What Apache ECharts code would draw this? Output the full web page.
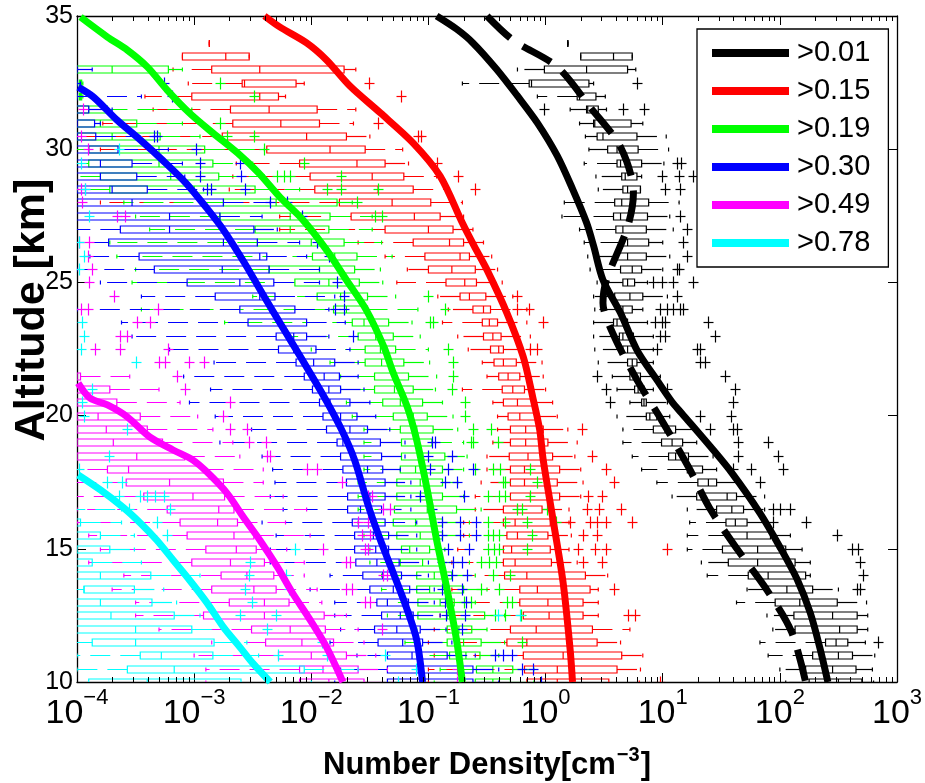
<!DOCTYPE html>
<html>
<head>
<meta charset="utf-8">
<script src="https://cdn.jsdelivr.net/npm/echarts@6/dist/echarts.min.js"></script>
<style>
  html, body { margin: 0; padding: 0; background: #fff; }
  #chart { width: 925px; height: 783px; }
</style>
</head>
<body>
<div id="chart"></div>
<script>
// Number density profiles of aerosol size classes versus altitude.
// Box statistics per altitude level: [altitude km, lowWhisker, q1, median, q3, highWhisker],
// all densities given as log10(cm^-3).

const sizeLabels = ['>0.01', '>0.15', '>0.19', '>0.30', '>0.49', '>0.78'];
const sizeColors = ['#000000', '#ff0000', '#00ff00', '#0000ff', '#ff00ff', '#00ffff'];

const blackBoxes = [
  [34, 0.19, 0.19, 0.19, 0.19, 0.19], [33.5, 0.30, 0.30, 0.58, 0.74, 0.74], [33, -0.24, -0.01, 0.35, 0.70, 0.77],
  [32.5, -0.71, -0.14, -0.12, 0.37, 0.41], [32, -0.07, 0.27, 0.29, 0.43, 0.51], [31.5, 0.21, 0.35, 0.36, 0.45, 0.52],
  [31, 0.29, 0.41, 0.42, 0.73, 0.83], [30.5, 0.34, 0.44, 0.49, 0.78, 1.03], [30, 0.37, 0.53, 0.61, 0.79, 1.05],
  [29.5, 0.33, 0.61, 0.64, 0.82, 1.01], [29, 0.43, 0.65, 0.68, 0.78, 0.82], [28.5, 0.45, 0.66, 0.70, 0.81, 0.81],
  [28, 0.16, 0.59, 0.65, 0.88, 1.14], [27.5, 0.14, 0.58, 0.64, 0.87, 1.06], [27, 0.29, 0.60, 0.66, 0.86, 1.09],
  [26.5, 0.33, 0.64, 0.70, 0.88, 1.00], [26, 0.36, 0.59, 0.70, 0.86, 1.06], [25.5, 0.38, 0.64, 0.74, 0.82, 1.00],
  [25, 0.44, 0.66, 0.70, 0.76, 0.87], [24.5, 0.41, 0.59, 0.72, 0.83, 1.04], [24, 0.42, 0.63, 0.66, 0.74, 0.83],
  [23.5, 0.41, 0.58, 0.61, 0.70, 0.87], [23, 0.41, 0.63, 0.66, 0.75, 0.92], [22.5, 0.42, 0.66, 0.70, 0.78, 0.92],
  [22, 0.45, 0.70, 0.74, 0.78, 0.92], [21.5, 0.57, 0.72, 0.75, 0.81, 0.98], [21, 0.61, 0.76, 0.79, 0.84, 0.92],
  [20.5, 0.72, 0.82, 0.84, 0.86, 1.04], [20, 0.61, 0.86, 0.89, 0.95, 1.06], [19.5, 0.66, 0.92, 1.02, 1.11, 1.29],
  [19, 0.66, 0.99, 1.08, 1.17, 1.29], [18.5, 0.74, 1.05, 1.11, 1.22, 1.43], [18, 0.82, 1.21, 1.23, 1.34, 1.46],
  [17.5, 0.95, 1.30, 1.39, 1.46, 1.66], [17, 1.08, 1.29, 1.55, 1.63, 1.87], [16.5, 1.21, 1.46, 1.59, 1.69, 1.87],
  [16, 1.23, 1.54, 1.62, 1.72, 1.89], [15.5, 1.21, 1.56, 1.72, 1.92, 2.09], [15, 1.21, 1.51, 1.81, 2.05, 2.19],
  [14.5, 1.33, 1.56, 1.81, 2.13, 2.26], [14, 1.38, 1.73, 1.90, 2.22, 2.26], [13.5, 1.72, 1.90, 2.06, 2.28, 2.50],
  [13, 1.63, 1.96, 2.17, 2.49, 2.74], [12.5, 1.89, 2.12, 2.45, 2.66, 2.75], [12, 1.94, 2.13, 2.51, 2.66, 2.75],
  [11.5, 1.83, 2.39, 2.48, 2.58, 2.73], [11, 1.90, 2.28, 2.50, 2.62, 2.81], [10.5, 2.00, 2.22, 2.45, 2.65, 2.79],
  [10, 2.05, 2.25, 2.50, 2.70, 2.80]
];
const redBoxes = [
  [34, -2.87, -2.87, -2.87, -2.87, -2.87], [33.5, -3.10, -3.10, -2.73, -2.53, -2.53], [33, -3.18, -2.85, -2.44, -1.72, -1.62],
  [32.5, -3.05, -2.59, -2.57, -2.13, -2.06], [32, -3.42, -3.02, -2.44, -2.28, -2.22], [31.5, -3.35, -2.69, -2.36, -1.95, -1.62],
  [31, -3.78, -2.67, -2.26, -1.93, -1.64], [30.5, -4.10, -2.76, -2.04, -1.70, -1.50], [30, -3.80, -2.38, -1.84, -1.54, -1.22],
  [29.5, -2.64, -2.10, -1.61, -1.37, -1.17], [29, -2.67, -2.01, -1.48, -1.21, -0.93], [28.5, -2.70, -1.97, -1.43, -1.13, -0.82],
  [28, -3.80, -1.76, -1.31, -0.98, -0.71], [27.5, -2.27, -1.66, -1.12, -0.90, -0.70], [27, -2.27, -1.37, -1.00, -0.79, -0.62],
  [26.5, -1.60, -1.13, -0.82, -0.70, -0.53], [26, -1.37, -1.03, -0.73, -0.65, -0.46], [25.5, -1.18, -1.00, -0.80, -0.60, -0.41],
  [25, -1.27, -0.85, -0.69, -0.59, -0.37], [24.5, -0.92, -0.73, -0.65, -0.51, -0.28], [24, -0.83, -0.62, -0.53, -0.47, -0.16],
  [23.5, -0.88, -0.54, -0.48, -0.41, -0.16], [23, -0.75, -0.53, -0.45, -0.38, -0.13], [22.5, -0.66, -0.47, -0.40, -0.36, -0.13],
  [22, -0.54, -0.44, -0.36, -0.25, -0.03], [21.5, -0.50, -0.40, -0.32, -0.22, -0.02], [21, -0.71, -0.37, -0.28, -0.18, 0.00],
  [20.5, -0.45, -0.36, -0.24, -0.10, 0.06], [20, -0.41, -0.32, -0.22, -0.08, 0.10], [19.5, -0.41, -0.30, -0.17, -0.02, 0.19],
  [19, -0.45, -0.30, -0.17, 0.02, 0.27], [18.5, -0.50, -0.31, -0.15, 0.06, 0.25], [18, -0.50, -0.30, -0.18, 0.12, 0.30],
  [17.5, -0.55, -0.30, -0.18, 0.10, 0.32], [17, -0.60, -0.30, -0.13, 0.12, 0.30], [16.5, -0.60, -0.36, -0.24, -0.03, 0.20],
  [16, -0.70, -0.36, -0.26, 0.04, 0.20], [15.5, -0.70, -0.33, -0.24, 0.02, 0.22], [15, -0.75, -0.36, -0.29, 0.04, 0.20],
  [14.5, -0.80, -0.36, -0.26, 0.05, 0.27], [14, -0.85, -0.35, -0.16, 0.34, 0.53], [13.5, -0.80, -0.22, -0.07, 0.38, 0.45],
  [13, -0.85, -0.22, 0.02, 0.32, 0.45], [12.5, -0.90, -0.19, 0.03, 0.32, 0.45], [12, -0.95, -0.30, -0.08, 0.40, 0.72],
  [11.5, -1.00, -0.33, -0.16, 0.44, 0.64], [11, -0.95, -0.19, 0.15, 0.65, 0.83], [10.5, -1.00, -0.18, 0.10, 0.61, 0.81],
  [10, -1.00, -0.16, 0.10, 0.54, 0.80]
];
const greenBoxes = [
  [33, -4.30, -4.30, -3.70, -3.22, -3.10], [32.5, -4.00, -3.98, -3.97, -3.96, -3.95], [32, -4.00, -3.98, -3.97, -3.96, -3.95],
  [31.5, -4.30, -4.10, -3.90, -3.74, -3.02], [31, -4.30, -4.10, -3.80, -3.49, -3.10], [30.5, -4.30, -4.10, -3.70, -3.29, -2.95],
  [30, -4.30, -3.90, -3.30, -2.91, -2.40], [29.5, -4.30, -3.90, -3.30, -2.84, -2.50], [29, -4.30, -3.80, -3.20, -2.79, -2.40],
  [28.5, -4.00, -3.72, -3.00, -2.48, -2.10], [28, -3.60, -2.75, -2.30, -1.78, -1.65], [27.5, -3.50, -2.78, -2.18, -1.84, -1.48],
  [27, -3.38, -2.48, -2.18, -1.85, -1.48], [26.5, -3.72, -2.46, -2.00, -1.72, -1.40], [26, -3.66, -1.99, -1.80, -1.61, -1.31],
  [25.5, -3.50, -2.36, -1.93, -1.63, -1.41], [25, -3.53, -2.14, -1.85, -1.59, -1.39], [24.5, -2.50, -1.95, -1.75, -1.52, -1.28],
  [24, -3.45, -1.81, -1.70, -1.52, -1.09], [23.5, -2.74, -1.65, -1.55, -1.34, -1.14], [23, -2.20, -1.60, -1.45, -1.30, -1.07],
  [22.5, -2.00, -1.54, -1.41, -1.28, -1.00], [22, -1.84, -1.54, -1.40, -1.21, -0.99], [21.5, -1.75, -1.46, -1.30, -1.17, -0.93],
  [21, -1.75, -1.46, -1.29, -1.13, -0.94], [20.5, -1.70, -1.39, -1.24, -1.05, -0.88], [20, -1.65, -1.30, -1.13, -1.01, -0.79],
  [19.5, -1.55, -1.24, -1.10, -0.96, -0.75], [19, -1.55, -1.23, -1.09, -0.97, -0.70], [18.5, -1.55, -1.23, -1.05, -0.86, -0.67],
  [18, -1.55, -1.24, -1.11, -0.88, -0.70], [17.5, -1.60, -1.27, -1.07, -0.88, -0.75], [17, -1.60, -1.27, -1.07, -0.88, -0.70],
  [16.5, -1.60, -1.29, -1.01, -0.76, -0.55], [16, -1.60, -1.30, -1.11, -0.88, -0.65], [15.5, -1.55, -1.27, -1.07, -0.88, -0.65],
  [15, -1.50, -1.23, -1.16, -0.99, -0.86], [14.5, -1.50, -1.24, -1.05, -0.88, -0.65], [14, -1.40, -1.10, -0.95, -0.80, -0.60],
  [13.5, -1.40, -1.10, -0.99, -0.70, -0.50], [13, -1.35, -1.09, -0.90, -0.78, -0.60], [12.5, -1.35, -1.09, -0.84, -0.52, -0.35],
  [12, -1.10, -0.84, -0.74, -0.63, -0.50], [11.5, -1.20, -0.84, -0.70, -0.55, -0.35], [11, -1.10, -0.82, -0.68, -0.56, -0.40],
  [10.5, -0.90, -0.59, -0.45, -0.28, -0.10], [10, -0.95, -0.60, -0.45, -0.30, -0.10]
];
const blueBoxes = [
  [33, -4.30, -4.20, -4.10, -4.00, -3.87], [32.5, -4.30, -4.20, -4.10, -4.00, -3.97], [32, -4.30, -4.20, -4.10, -4.00, -3.45],
  [31.5, -4.30, -4.20, -4.10, -3.90, -3.70], [31, -4.30, -4.20, -4.00, -3.85, -3.80], [30.5, -4.40, -4.20, -4.00, -3.84, -3.50],
  [30, -4.40, -4.10, -3.90, -3.65, -3.22], [29.5, -4.40, -4.10, -3.80, -3.53, -3.10], [29, -4.40, -4.10, -3.80, -3.49, -3.08],
  [28.5, -4.40, -4.00, -3.70, -3.40, -2.92], [28, -4.40, -4.10, -3.53, -2.75, -2.35], [27.5, -4.40, -4.10, -3.21, -2.78, -2.42],
  [27, -4.10, -3.63, -3.21, -2.49, -2.29], [26.5, -4.10, -3.73, -2.75, -2.46, -2.10], [26, -3.89, -3.47, -2.44, -2.38, -2.04],
  [25.5, -4.00, -3.34, -2.76, -2.36, -1.93], [25, -3.80, -3.06, -2.61, -2.32, -1.93], [24.5, -3.45, -2.82, -2.44, -2.31, -1.80],
  [24, -4.00, -2.61, -2.35, -2.14, -1.85], [23.5, -3.62, -2.54, -2.27, -2.04, -1.71], [23, -3.53, -2.30, -2.15, -2.04, -1.85],
  [22.5, -3.21, -2.28, -2.15, -1.96, -1.67], [22, -2.83, -2.13, -1.98, -1.80, -1.60], [21.5, -3.09, -2.06, -1.89, -1.76, -1.60],
  [21, -2.86, -1.99, -1.85, -1.75, -1.55], [20.5, -3.04, -1.93, -1.84, -1.67, -1.50], [20, -2.82, -1.90, -1.75, -1.61, -1.45],
  [19.5, -2.51, -1.87, -1.67, -1.52, -1.33], [19, -2.78, -1.78, -1.73, -1.41, -1.20], [18.5, -2.42, -1.75, -1.63, -1.40, -1.20],
  [18, -2.33, -1.73, -1.52, -1.39, -1.24], [17.5, -2.31, -1.70, -1.58, -1.37, -1.15], [17, -2.35, -1.69, -1.50, -1.37, -1.15],
  [16.5, -2.24, -1.69, -1.58, -1.40, -1.15], [16, -2.42, -1.65, -1.47, -1.37, -1.10], [15.5, -2.30, -1.63, -1.47, -1.34, -1.10],
  [15, -2.35, -1.63, -1.45, -1.34, -1.10], [14.5, -2.35, -1.62, -1.44, -1.25, -1.00], [14, -1.84, -1.56, -1.39, -1.23, -1.00],
  [13.5, -2.01, -1.50, -1.30, -1.16, -0.95], [13, -1.80, -1.44, -1.35, -1.17, -0.95], [12.5, -1.80, -1.40, -1.24, -1.13, -0.90],
  [12, -1.75, -1.46, -1.27, -1.07, -0.85], [11.5, -1.84, -1.43, -1.22, -1.05, -0.80], [11, -1.61, -1.35, -1.14, -0.84, -0.60],
  [10.5, -1.75, -1.35, -1.10, -0.62, -0.40], [10, -1.80, -1.35, -1.05, -0.62, -0.40]
];
const magentaBoxes = [
  [21.5, -4.50, -4.05, -4.00, -3.97, -3.55], [21, -4.50, -4.40, -4.20, -3.72, -3.30], [20.5, -4.50, -4.20, -4.00, -3.66, -3.12],
  [20, -4.50, -4.00, -3.82, -3.46, -2.97], [19.5, -4.50, -4.00, -3.75, -3.40, -2.84], [19, -4.50, -4.00, -3.69, -3.27, -2.67],
  [18.5, -4.50, -4.00, -3.49, -3.08, -2.61], [18, -4.30, -3.74, -3.56, -2.92, -2.41], [17.5, -4.30, -3.58, -3.21, -2.75, -2.41],
  [17, -4.30, -3.43, -3.01, -2.74, -2.24], [16.5, -4.00, -3.23, -2.79, -2.66, -2.04], [16, -4.00, -3.12, -2.80, -2.63, -2.22],
  [15.5, -3.90, -3.06, -2.66, -2.49, -2.01], [15, -3.80, -2.90, -2.64, -2.47, -2.21], [14.5, -3.90, -3.02, -2.69, -2.40, -2.06],
  [14, -3.60, -2.77, -2.55, -2.32, -2.06], [13.5, -3.70, -2.85, -2.49, -2.30, -1.95], [13, -3.50, -2.70, -2.40, -2.19, -1.91],
  [12.5, -3.50, -2.92, -2.40, -1.89, -1.70], [12, -3.30, -2.51, -2.18, -1.88, -1.60], [11.5, -2.85, -2.39, -2.08, -1.81, -1.55],
  [11, -3.00, -2.28, -2.00, -1.70, -1.45], [10.5, -2.90, -2.10, -1.90, -1.60, -1.35], [10, -2.90, -2.10, -1.85, -1.55, -1.30]
];
const cyanBoxes = [
  [16.5, -4.50, -4.40, -4.30, -4.10, -3.62], [16, -4.50, -4.30, -4.10, -3.97, -3.62], [15.5, -4.50, -4.20, -4.05, -3.80, -3.51],
  [15, -4.50, -4.20, -4.00, -3.72, -3.51], [14.5, -4.50, -4.20, -4.05, -3.87, -3.45], [14, -4.50, -4.10, -3.80, -3.37, -2.95],
  [13.5, -4.50, -3.94, -3.94, -3.51, -3.26], [13, -4.50, -4.10, -3.80, -3.36, -3.15], [12.5, -4.50, -4.10, -3.71, -3.17, -2.95],
  [12, -4.50, -4.10, -3.50, -3.02, -2.75], [11.5, -4.50, -3.87, -3.50, -2.83, -2.55], [11, -4.00, -3.46, -3.28, -2.84, -2.45],
  [10.5, -4.00, -3.57, -3.17, -2.06, -1.60], [10, -4.20, -3.90, -3.40, -2.60, -2.00]
];

// Outliers: [altitude km, log10 density]
const blackOutliers = [
  [32.5, 0.78], [31.5, -0.01], [31.5, 0.66], [31.5, 0.84], [29.5, 1.12], [29.5, 1.16], [29, 0.99], [29, 1.14], [29, 1.26],
  [28.5, 1.02], [28.5, 1.15], [27.5, 1.15], [27, 1.21], [26.5, 1.17], [26, 1.21], [25.5, 1.12], [25.5, 1.14],
  [25, 0.92], [25, 0.99], [25, 1.09], [25, 1.26], [24.5, 1.12], [24, 0.98], [24, 1.04], [24, 1.09], [24, 1.15], [24, 1.17],
  [23.5, 0.93], [23.5, 0.99], [23.5, 1.02], [23.5, 1.39], [23, 0.98], [23, 1.02], [23, 1.45], [22.5, 0.95], [22.5, 1.29],
  [22.5, 1.32], [22, 1.32], [22, 1.36], [21.5, 0.44], [21.5, 1.53], [21, 0.52], [21, 1.04], [21, 1.62], [20.5, 0.55],
  [20.5, 1.60], [20, 1.32], [20, 1.58], [19.5, 1.40], [19.5, 1.60], [19.5, 1.63], [19, 1.64], [19, 1.90], [18.5, 1.64],
  [18.5, 1.98], [18, 1.60], [18, 1.75], [18, 2.03], [17.5, 1.83], [16.5, 1.94], [16.5, 2.00], [16.5, 2.09], [16, 1.94],
  [16, 2.22], [15.5, 2.49], [15, 2.62], [15, 2.67], [14.5, 2.68], [14, 2.71], [13.5, 2.66], [13.5, 2.68], [11.5, 2.84]
];
const redOutliers = [
  [32.5, -1.51], [32, -1.23], [31, -1.43], [30.5, -1.09], [30.5, -1.06], [29.5, -0.93], [29, -0.75], [28.5, -0.60],
  [24.5, -0.24], [24, -0.24], [24, -0.14], [23.5, -0.02], [22.5, -0.13], [22.5, -0.07], [19.5, 0.31], [18.5, 0.40],
  [18, 0.52], [17.5, 0.58], [17, 0.36], [17, 0.48], [16.5, 0.35], [16.5, 0.46], [16.5, 0.64], [16, 0.21], [16, 0.38],
  [16, 0.44], [16, 0.52], [16, 0.74], [15.5, 0.32], [15.5, 0.44], [15, 0.28], [15, 0.42], [15, 0.52], [15, 1.04],
  [14.5, 0.32], [14.5, 0.48], [13.5, 0.58], [12.5, 0.70], [12.5, 0.76], [10, 0.98]
];
const greenOutliers = [
  [32.5, -2.78], [32, -2.49], [31, -2.78], [30.5, -2.72], [30.5, -2.49], [30, -2.40], [29.5, -2.06], [29, -2.29],
  [29, -2.23], [29, -2.18], [29, -1.75], [28.5, -1.87], [28.5, -1.75], [28.5, -1.43], [28, -1.61], [27.5, -1.46],
  [27.5, -1.40], [24.5, -1.00], [24, -0.86], [23.5, -0.99], [23.5, -0.96], [22.5, -0.83], [22, -0.79], [21.5, -0.79],
  [21, -0.80], [20.5, -0.69], [20, -0.69], [19.5, -0.62], [19.5, -0.47], [19, -0.64], [19, -0.62], [19, -0.41],
  [18, -0.60], [18, -0.45], [18, -0.39], [18, -0.13], [17.5, -0.36], [17.5, -0.35], [17.5, -0.07], [17, -0.49],
  [17, -0.40], [17, -0.35], [17, -0.13], [16.5, -0.24], [16.5, -0.20], [16.5, 0.01], [16, -0.49], [16, -0.35],
  [16, -0.16], [16, 0.09], [15.5, -0.49], [15.5, -0.45], [15.5, -0.40], [15.5, -0.12], [15, -0.49], [15, -0.44],
  [15, -0.40], [15, -0.16], [14.5, -0.55], [14.5, -0.48], [14.5, -0.42], [14, -0.45], [14, -0.30], [13.5, -0.55],
  [13.5, -0.40], [13, -0.70], [13, -0.64], [13, -0.33], [13, -0.29], [12.5, -0.43], [12.5, -0.35], [12.5, -0.21], [11.5, -0.20]
];
const blueOutliers = [
  [32.5, -3.26], [32, -3.19], [30.5, -3.34], [30.5, -3.32], [30, -2.98], [29.5, -2.95], [29.5, -2.61], [29, -2.95],
  [29, -2.60], [28.5, -2.89], [28.5, -2.86], [28.5, -2.57], [28, -2.35], [28, -2.21], [27.5, -2.08], [26.5, -1.95],
  [26, -1.85], [25, -1.78], [24.5, -1.72], [24, -1.80], [24, -1.72], [23, -1.64], [19, -0.97], [19, -0.94], [18.5, -1.00],
  [18.5, -0.80], [18, -0.99], [18, -0.83], [18, -0.62], [17.5, -0.86], [17.5, -0.76], [17, -1.07], [17, -0.70],
  [16.5, -0.97], [16, -0.88], [16, -0.73], [16, -0.59], [15.5, -0.88], [15.5, -0.73], [15.5, -0.59], [15, -0.83],
  [15, -0.65], [14.5, -0.88], [14.5, -0.79], [14.5, -0.71], [14, -0.80], [14, -0.67], [13.5, -0.88], [13.5, -0.71],
  [13, -0.86], [13, -0.68], [12.5, -0.85], [12.5, -0.69], [12, -0.71], [11, -0.43], [11, -0.36], [11, -0.29],
  [10.5, -0.20], [10.5, -0.11], [10, -0.04]
];
const magentaOutliers = [
  [31.5, -3.95], [30.5, -3.97], [30, -3.91], [28.5, -3.97], [28.5, -3.93], [28, -3.96], [27.5, -3.66], [27.5, -3.59],
  [26.5, -3.98], [26.5, -3.90], [26, -3.91], [25.5, -3.87], [25, -3.90], [24.5, -3.68], [24, -3.97], [24, -3.91],
  [24, -3.31], [23.5, -3.49], [23.5, -3.38], [23, -3.63], [23, -3.57], [22.5, -3.85], [22.5, -3.63], [22.5, -3.22],
  [22, -3.30], [22, -3.25], [22, -3.04], [22, -2.92], [21.5, -3.15], [21, -3.08], [20.5, -2.69], [20, -2.75],
  [19.5, -2.69], [19.5, -2.55], [19, -2.53], [19, -2.39], [18.5, -2.38], [18.5, -2.35], [18, -2.04], [18, -1.95],
  [17.5, -1.74], [17, -1.52], [17, -1.48], [16.5, -1.39], [16.5, -1.33], [16, -1.60], [16, -1.52], [15.5, -1.57],
  [15.5, -1.50], [15, -1.90], [15, -1.54], [15, -1.52], [14.5, -1.70], [14.5, -1.67], [14, -1.39], [14, -1.35],
  [13.5, -1.70], [13.5, -1.65], [13, -1.54], [13, -1.50], [12, -1.40], [10.5, -0.76], [10, -0.76]
];
const cyanOutliers = [
  [30, -3.64], [29.5, -3.97], [28.5, -3.93], [27.5, -3.90], [26.5, -3.98], [26, -3.94], [25.5, -3.98], [23.5, -3.96],
  [23, -3.94], [22.5, -3.97], [22, -3.50], [21, -3.87], [20.5, -3.96], [20, -3.94], [19.5, -3.57], [18.5, -3.73],
  [18, -3.98], [17.5, -3.74], [17.5, -3.62], [17, -3.64], [17, -3.46], [17, -3.40], [17, -3.33], [17, -3.26],
  [16.5, -3.56], [16.5, -3.21], [16, -3.32], [15.5, -3.23], [15, -2.14], [14.5, -2.52], [14, -2.53], [14, -2.22],
  [13.5, -2.57], [13.5, -2.19], [13, -2.51], [12.5, -2.61], [12.5, -2.30], [12.5, -0.41], [12.5, -0.22], [12, -2.38],
  [11.5, -1.91], [11, -2.28], [11, -1.87], [11, -1.37], [10.5, -1.11], [10, -1.26]
];

// Mean profiles: [altitude km, log10 density]
const blackProfile = [
  [35, -0.93], [34.51, -0.76], [33.99, -0.62], [33.01, -0.42], [32.0, -0.24], [30.99, -0.07], [29.75, 0.10],
  [28.51, 0.23], [27.24, 0.35], [26.37, 0.41], [25.09, 0.49], [23.85, 0.64], [22.46, 0.78], [21.34, 0.95],
  [20.51, 1.08], [20.10, 1.16], [18.82, 1.41], [17.85, 1.59], [16.34, 1.83], [15.07, 2.00], [13.83, 2.15],
  [12.59, 2.26], [11.31, 2.34], [10.0, 2.41]
];
const blackDashedProfile = [
  [35, -0.50], [34.1, -0.28], [33.09, 0.10], [31.58, 0.38], [30.08, 0.64], [28.36, 0.75], [27.08, 0.70],
  [25.09, 0.52], [24.23, 0.49], [23.03, 0.58], [21.34, 0.78], [19.83, 0.99], [18.07, 1.22], [16.53, 1.40],
  [14.96, 1.64], [13.45, 1.89], [11.88, 2.10], [10.0, 2.22]
];
const redProfile = [
  [35, -2.40], [34.59, -2.27], [33.99, -2.04], [33.35, -1.87], [32.37, -1.67], [31.36, -1.41], [30.23, -1.13],
  [28.99, -0.90], [27.23, -0.71], [26.37, -0.61], [25.47, -0.50], [23.85, -0.33], [22.20, -0.19], [20.70, -0.11],
  [19.46, -0.05], [18.33, -0.02], [16.19, 0.06], [13.72, 0.15], [11.20, 0.21], [10.0, 0.23]
];
const greenProfile = [
  [34.96, -3.97], [34.21, -3.74], [33.72, -3.57], [33.09, -3.40], [32.22, -3.23], [31.36, -3.04], [30.61, -2.84],
  [29.86, -2.63], [29.11, -2.45], [28.21, -2.27], [27.34, -2.07], [26.22, -1.87], [25.09, -1.70], [23.96, -1.53],
  [22.58, -1.38], [21.60, -1.30], [20.32, -1.18], [19.08, -1.10], [17.21, -1.01], [15.33, -0.93], [13.45, -0.84],
  [11.58, -0.76], [10.0, -0.71]
];
const blueProfile = [
  [32.33, -3.99], [31.96, -3.86], [31.10, -3.66], [30.35, -3.46], [29.59, -3.27], [28.73, -3.07], [27.83, -2.90],
  [26.97, -2.75], [25.73, -2.57], [24.45, -2.40], [23.21, -2.23], [21.97, -2.06], [20.70, -1.89], [19.46, -1.74],
  [18.33, -1.63], [16.57, -1.51], [15.33, -1.41], [14.09, -1.30], [12.82, -1.19], [11.58, -1.10], [10.0, -1.05]
];
const magentaProfile = [
  [21.22, -3.99], [20.66, -3.89], [20.40, -3.74], [19.95, -3.57], [19.20, -3.38], [18.71, -3.18], [18.33, -3.01],
  [17.88, -2.89], [17.09, -2.72], [16.19, -2.58], [15.33, -2.44], [14.32, -2.29], [13.34, -2.16], [12.33, -2.01],
  [11.31, -1.87], [10.0, -1.73]
];
const cyanProfile = [
  [17.77, -3.99], [17.21, -3.80], [16.57, -3.61], [15.97, -3.46], [15.33, -3.32], [14.58, -3.18], [13.83, -3.04],
  [12.97, -2.89], [12.06, -2.75], [11.31, -2.61], [10.71, -2.50], [10.0, -2.35]
];

const xDecades = [-4, -3, -2, -1, 0, 1, 2, 3];
const altitudeTicks = [10, 15, 20, 25, 30, 35];

const FONT = '"Liberation Sans", Arial, Helvetica, sans-serif';
const pow10 = v => Math.pow(10, v);

// minor log ticks at 2..9 within each decade
const minorTickValues = [];
for (let i = 0; i < xDecades.length - 1; i++) {
  for (let m = 2; m <= 9; m++) minorTickValues.push([m * pow10(xDecades[i]), 10]);
}

function boxSeries(rows, color) {
  return {
    type: 'custom',
    clip: true,
    z: 2,
    silent: true,
    data: rows.map(r => [r[0], pow10(r[1]), pow10(r[2]), pow10(r[3]), pow10(r[4]), pow10(r[5])]),
    encode: { x: [1, 2, 3, 4, 5], y: 0 },
    renderItem: function (params, api) {
      const alt = api.value(0);
      const px = k => api.coord([api.value(k), alt])[0];
      const y = Math.round(api.coord([1, alt])[1]) + 0.5;
      const wl = px(1), q1 = px(2), md = px(3), q3 = px(4), wh = px(5);
      const h = 3.5, c = 2;
      const solid = { stroke: color, lineWidth: 1.2, fill: null };
      const dashed = { stroke: color, lineWidth: 1.2, lineDash: [20, 10] };
      return {
        type: 'group',
        children: [
          { type: 'line', shape: { x1: q1, y1: y, x2: wl, y2: y }, style: dashed },
          { type: 'line', shape: { x1: q3, y1: y, x2: wh, y2: y }, style: dashed },
          { type: 'line', shape: { x1: wl, y1: y - c, x2: wl, y2: y + c }, style: solid },
          { type: 'line', shape: { x1: wh, y1: y - c, x2: wh, y2: y + c }, style: solid },
          { type: 'rect', shape: { x: q1, y: y - h, width: q3 - q1, height: 2 * h }, style: solid },
          { type: 'line', shape: { x1: md, y1: y - h, x2: md, y2: y + h }, style: solid }
        ]
      };
    }
  };
}

function outlierSeries(rows, color) {
  return {
    type: 'custom',
    clip: true,
    z: 3,
    silent: true,
    data: rows.map(r => [pow10(r[1]), r[0]]),
    renderItem: function (params, api) {
      const p = api.coord([api.value(0), api.value(1)]);
      const x = Math.round(p[0]) + 0.5, y = Math.round(p[1]) + 0.5;
      const s = { stroke: color, lineWidth: 1.2 };
      return {
        type: 'group',
        children: [
          { type: 'line', shape: { x1: x - 5, y1: y, x2: x + 5, y2: y }, style: s },
          { type: 'line', shape: { x1: x, y1: y - 6, x2: x, y2: y + 6 }, style: s }
        ]
      };
    }
  };
}

function profileSeries(name, rows, color, dashed) {
  return {
    name: name,
    type: 'line',
    z: 5,
    silent: true,
    showSymbol: false,
    smooth: 0.3,
    color: color,
    itemStyle: { color: color },
    lineStyle: { color: color, width: 7, type: dashed ? [32, 15] : 'solid', cap: 'butt' },
    data: rows.map(r => [pow10(r[1]), r[0]])
  };
}

const supMinus = e => (e < 0 ? '\u2212' + (-e) : String(e));

const tickSeries = {
  type: 'custom',
  clip: false,
  z: 6,
  silent: true,
  data: minorTickValues,
  renderItem: function (params, api) {
    const v = api.value(0);
    const b = api.coord([v, 10]), t = api.coord([v, 35]);
    const x = Math.round(b[0]) + 0.5;
    const s = { stroke: '#000', lineWidth: 1 };
    return {
      type: 'group',
      children: [
        { type: 'line', shape: { x1: x, y1: b[1], x2: x, y2: b[1] - 5 }, style: s },
        { type: 'line', shape: { x1: x, y1: t[1], x2: x, y2: t[1] + 5 }, style: s }
      ]
    };
  }
};

const baseX = {
  type: 'log',
  logBase: 10,
  min: pow10(xDecades[0]),
  max: pow10(xDecades[xDecades.length - 1]),
  splitLine: { show: false },
  axisLine: { show: true, onZero: false, lineStyle: { color: '#000', width: 1.3 } },
  axisTick: { show: true, inside: true, length: 9, lineStyle: { color: '#000', width: 1 } }
};
const baseY = {
  type: 'value',
  min: altitudeTicks[0],
  max: altitudeTicks[altitudeTicks.length - 1],
  interval: 5,
  splitLine: { show: false },
  axisLine: { show: true, onZero: false, lineStyle: { color: '#000', width: 1.3 } },
  axisTick: { show: true, inside: true, length: 9, lineStyle: { color: '#000', width: 1 } }
};

const option = {
  animation: false,
  backgroundColor: '#fff',
  grid: { left: 77, right: 28, top: 16, bottom: 101, containLabel: false, outerBoundsMode: 'none' },
  graphic: [
    {
      type: 'text',
      x: 32,
      y: 310,
      rotation: Math.PI / 2,
      silent: true,
      style: {
        text: 'Altitude [km]',
        fontFamily: FONT,
        fontWeight: 'bold',
        fontSize: 43,
        fill: '#000',
        align: 'center',
        verticalAlign: 'middle',
        textAlign: 'center',
        textVerticalAlign: 'middle'
      }
    }
  ],
  xAxis: [
    Object.assign({}, baseX, {
      position: 'bottom',
      name: '{t|Number Density[cm}{s|\u22123}{t|]}',
      nameLocation: 'middle',
      nameGap: 63,
      nameTextStyle: {
        rich: {
          t: { fontFamily: FONT, fontWeight: 'bold', fontSize: 31, color: '#000', verticalAlign: 'bottom' },
          s: { fontFamily: FONT, fontWeight: 'bold', fontSize: 20, color: '#000', verticalAlign: 'bottom', padding: [0, 1, 16, 1] }
        }
      },
      axisLabel: {
        margin: 5,
        formatter: v => '{b|10}{s|' + supMinus(Math.round(Math.log10(v))) + '}',
        rich: {
          b: { fontFamily: FONT, fontSize: 34, color: '#000', verticalAlign: 'bottom' },
          s: { fontFamily: FONT, fontSize: 22, color: '#000', verticalAlign: 'bottom', padding: [0, 0, 22, 0] }
        }
      }
    }),
    Object.assign({}, baseX, { position: 'top', axisLabel: { show: false } })
  ],
  yAxis: [
    Object.assign({}, baseY, {
      position: 'left',
      axisLabel: { margin: 4, fontFamily: FONT, fontSize: 25, color: '#000' }
    }),
    Object.assign({}, baseY, { position: 'right', axisLabel: { show: false } })
  ],
  legend: {
    data: sizeLabels,
    orient: 'vertical',
    left: 697,
    top: 29,
    padding: [9, 18, 9, 15],
    itemWidth: 77,
    itemHeight: 8,
    itemGap: 8,
    icon: 'rect',
    borderColor: '#000',
    borderWidth: 1.3,
    borderRadius: 0,
    backgroundColor: '#fff',
    selectedMode: false,
    z: 20,
    textStyle: { fontFamily: FONT, fontSize: 29, lineHeight: 30, color: '#000', padding: [0, 0, 0, 3] }
  },
  series: [
    boxSeries(blackBoxes, sizeColors[0]),
    boxSeries(redBoxes, sizeColors[1]),
    boxSeries(greenBoxes, sizeColors[2]),
    boxSeries(blueBoxes, sizeColors[3]),
    boxSeries(magentaBoxes, sizeColors[4]),
    boxSeries(cyanBoxes, sizeColors[5]),
    outlierSeries(blackOutliers, sizeColors[0]),
    outlierSeries(redOutliers, sizeColors[1]),
    outlierSeries(greenOutliers, sizeColors[2]),
    outlierSeries(blueOutliers, sizeColors[3]),
    outlierSeries(magentaOutliers, sizeColors[4]),
    outlierSeries(cyanOutliers, sizeColors[5]),
    profileSeries(sizeLabels[0], blackProfile, sizeColors[0], false),
    profileSeries('dashed', blackDashedProfile, sizeColors[0], true),
    profileSeries(sizeLabels[1], redProfile, sizeColors[1], false),
    profileSeries(sizeLabels[2], greenProfile, sizeColors[2], false),
    profileSeries(sizeLabels[3], blueProfile, sizeColors[3], false),
    profileSeries(sizeLabels[4], magentaProfile, sizeColors[4], false),
    profileSeries(sizeLabels[5], cyanProfile, sizeColors[5], false),
    tickSeries
  ]
};

const chart = echarts.init(document.getElementById('chart'), null, { renderer: 'canvas' });
chart.setOption(option);
</script>
</body>
</html>
